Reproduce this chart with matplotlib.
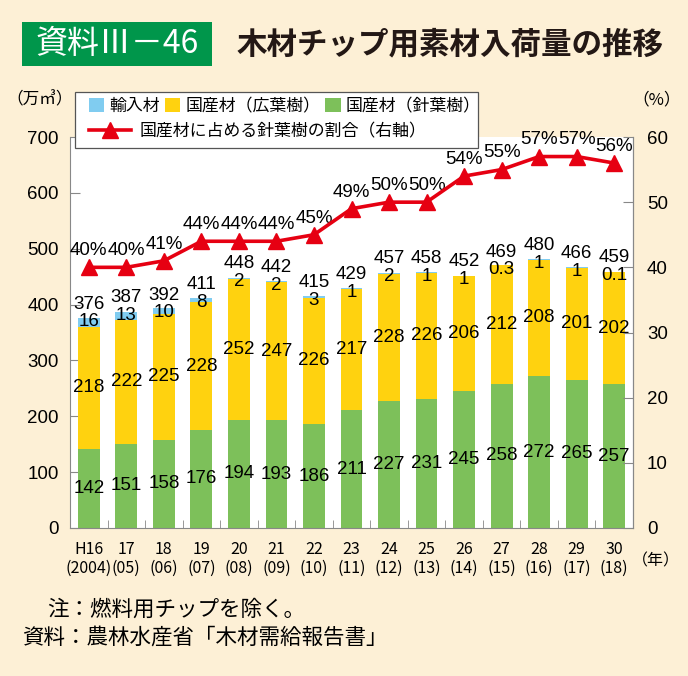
import matplotlib
matplotlib.use("Agg")
import matplotlib.pyplot as plt
import numpy as np
from matplotlib.patches import Patch, Rectangle
from matplotlib.lines import Line2D

plt.rcParams['font.family'] = ['Noto Sans CJK JP', 'DejaVu Sans']
NUM = ['Liberation Sans', 'Noto Sans CJK JP']  # digits look Helvetica-like in the original

# data
years = ['H16\n(2004)', '17\n(05)', '18\n(06)', '19\n(07)', '20\n(08)', '21\n(09)', '22\n(10)',
         '23\n(11)', '24\n(12)', '25\n(13)', '26\n(14)', '27\n(15)', '28\n(16)', '29\n(17)', '30\n(18)']
softwood = [142, 151, 158, 176, 194, 193, 186, 211, 227, 231, 245, 258, 272, 265, 257]
hardwood = [218, 222, 225, 228, 252, 247, 226, 217, 228, 226, 206, 212, 208, 201, 202]
imported = [16, 13, 10, 8, 2, 2, 3, 1, 2, 1, 1, 0.3, 1, 1, 0.1]
imported_lbl = ['16', '13', '10', '8', '2', '2', '3', '1', '2', '1', '1', '0.3', '1', '1', '0.1']
totals = [376, 387, 392, 411, 448, 442, 415, 429, 457, 458, 452, 469, 480, 466, 459]
share = [40, 40, 41, 44, 44, 44, 45, 49, 50, 50, 54, 55, 57, 57, 56]

BG = '#fdf0d6'
C_SOFT = '#7dc05a'
C_HARD = '#ffd20f'
C_IMP = '#80ccf0'
C_RED = '#e60012'
C_BOX = '#00964b'
C_AX = '#888888'

W, H = 688, 676
fig = plt.figure(figsize=(W / 100, H / 100), dpi=100, facecolor=BG)

def fx(px):
    return px / W

def fy(py):
    return 1 - py / H

ax = fig.add_axes([fx(70), fy(528), fx(633) - fx(70), fy(137) - fy(528)])
ax.set_facecolor('white')

x = np.arange(len(years))
soft = np.array(softwood)
hard = np.array(hardwood)
imp = np.array(imported)
bw = 0.58
ax.bar(x, soft, bw, color=C_SOFT, zorder=2)
ax.bar(x, hard, bw, bottom=soft, color=C_HARD, zorder=2)
ax.bar(x, imp, bw, bottom=soft + hard, color=C_IMP, zorder=2)

fs = 13.5
for i in range(len(x)):
    ax.text(x[i], soft[i] / 2, str(softwood[i]), ha='center', va='center', fontsize=fs, family=NUM, zorder=4)
    ax.text(x[i], soft[i] + hard[i] / 2, str(hardwood[i]), ha='center', va='center', fontsize=fs,
            family=NUM, zorder=4)
    ax.text(x[i], totals[i] - 7, imported_lbl[i], ha='center', va='center', fontsize=fs, family=NUM, zorder=4)
    ax.text(x[i], totals[i] + 25, str(totals[i]), ha='center', va='center', fontsize=fs, family=NUM, zorder=4)

ax.set_xlim(-0.5, 14.5)
ax.set_ylim(0, 700)
ax.set_yticks(range(0, 701, 100))
ax.set_xticks(x)
ax.set_xticklabels(years, fontsize=11.5, linespacing=1.2)
ax.set_xticks(x[:-1] + 0.5, minor=True)
ax.tick_params(axis='x', which='major', length=0, pad=9)
ax.tick_params(axis='x', which='minor', direction='in', length=6, color=C_AX)
ax.tick_params(axis='y', direction='in', length=7, color=C_AX, labelsize=fs, pad=8)
for lab in ax.get_yticklabels():
    lab.set_family(NUM)
ax.spines['top'].set_visible(False)
for s in ['left', 'bottom', 'right']:
    ax.spines[s].set_color(C_AX)

ax2 = ax.twinx()
ax2.set_ylim(0, 60)
ax2.set_yticks(range(0, 61, 10))
ax2.tick_params(axis='y', direction='in', length=7, color=C_AX, labelsize=fs, pad=10)
for lab in ax2.get_yticklabels():
    lab.set_family(NUM)
ax2.spines['top'].set_visible(False)
ax2.spines['left'].set_visible(False)
ax2.spines['bottom'].set_visible(False)
ax2.spines['right'].set_color(C_AX)
ax2.plot(x, share, color=C_RED, lw=2.6, marker='^', ms=11, zorder=5)
for i in range(len(x)):
    ax2.annotate(f'{share[i]}%', (x[i], share[i]), xytext=(0, 12), textcoords='offset points',
                 ha='center', va='center', fontsize=fs, family=NUM, annotation_clip=False)

# unit labels
fig.text(fx(40), fy(100), '（万㎥）', ha='center', va='center', fontsize=12)
fig.text(fx(657), fy(100), '（%）', ha='center', va='center', fontsize=12)
fig.text(fx(656), fy(561), '（年）', ha='center', va='center', fontsize=11.5)

# legend
frame = Rectangle((fx(75), fy(148)), fx(478) - fx(75), fy(92) - fy(148), transform=fig.transFigure,
                  facecolor='white', edgecolor='#555555', lw=0.9, zorder=3)
fig.add_artist(frame)
hs = [Patch(facecolor=C_IMP), Patch(facecolor=C_HARD), Patch(facecolor=C_SOFT)]
leg1 = fig.legend(hs, ['輸入材', '国産材（広葉樹）', '国産材（針葉樹）'], ncol=3, loc='center left',
                  bbox_to_anchor=(fx(89), fy(106)), frameon=False, fontsize=12.2, handlelength=0.9,
                  handleheight=0.9, handletextpad=0.3, columnspacing=0.3, borderpad=0, borderaxespad=0)
leg1.set_zorder(6)
lh = Line2D([], [], color=C_RED, lw=2.6, marker='^', ms=11)
leg2 = fig.legend([lh], ['国産材に占める針葉樹の割合（右軸）'], loc='center left',
                  bbox_to_anchor=(fx(89), fy(131)), frameon=False, fontsize=12.2, handlelength=2.5,
                  handletextpad=0.5, borderpad=0, borderaxespad=0)
leg2.set_zorder(6)

# title
fig.add_artist(Rectangle((fx(22), fy(66)), fx(212) - fx(22), fy(22) - fy(66), transform=fig.transFigure,
                         facecolor=C_BOX, edgecolor='none'))
fig.text(fx(117), fy(44), '資料Ⅲ－46', color='white', ha='center', va='center', fontsize=23)
fig.text(fx(237), fy(44), '木材チップ用素材入荷量の推移', ha='left', va='center', fontsize=22,
         fontweight='bold', color='#231815')

# notes
fig.text(fx(47), fy(610), '注：燃料用チップを除く。', ha='left', va='center', fontsize=15.5)
fig.text(fx(22), fy(638), '資料：農林水産省「木材需給報告書」', ha='left', va='center', fontsize=15.5)

fig.savefig('out.png', dpi=100, facecolor=BG)
